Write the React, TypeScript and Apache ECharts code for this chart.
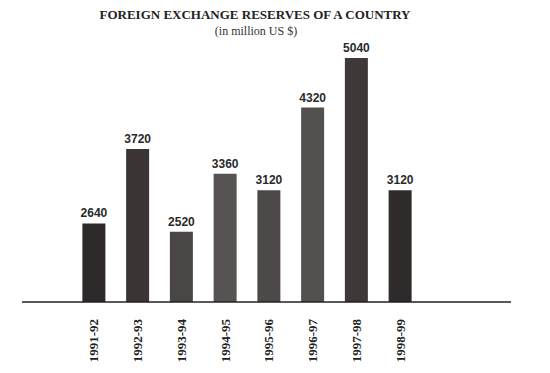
import React, { useEffect, useRef } from "react";
import * as echarts from "echarts";

const categories = ["1991-92", "1992-93", "1993-94", "1994-95", "1995-96", "1996-97", "1997-98", "1998-99"];
const reserves = [2640, 3720, 2520, 3360, 3120, 4320, 5040, 3120];
const barColors = ["#2e2a2a", "#3a3434", "#4a4646", "#575353", "#4d4949", "#555050", "#3f3838", "#2f2b2b"];
const titleText = "FOREIGN EXCHANGE RESERVES OF A COUNTRY";
const subtitleText = "(in million US $)";

export default function App() {
  const ref = useRef<HTMLDivElement>(null);
  useEffect(() => {
    document.body.style.margin = "0";
    const chart = echarts.init(ref.current!, null, { renderer: "svg" });
    chart.setOption({
      animation: false,
      backgroundColor: "#ffffff",
      graphic: [
        {
          type: "text",
          x: 255,
          y: 14,
          style: {
            text: titleText,
            fill: "#222",
            font: "bold 13px 'Liberation Serif', serif",
            textAlign: "center",
            textVerticalAlign: "middle",
          },
        },
        {
          type: "text",
          x: 256,
          y: 31,
          style: {
            text: subtitleText,
            fill: "#333",
            font: "12px 'Liberation Serif', serif",
            textAlign: "center",
            textVerticalAlign: "middle",
          },
        },
        {
          type: "line",
          shape: { x1: 22, y1: 302, x2: 511, y2: 302 },
          style: { stroke: "#222", lineWidth: 1.5 },
          z: 10,
        },
      ],
      grid: { left: 72, width: 350, top: 40, bottom: 71 },
      xAxis: {
        type: "category",
        data: categories,
        axisLine: { show: false },
        axisTick: { show: false },
        axisLabel: {
          rotate: 90,
          margin: 17,
          color: "#222",
          fontFamily: "'Liberation Serif', serif",
          fontWeight: "bold",
          fontSize: 13,
        },
      },
      yAxis: {
        type: "value",
        min: 1500,
        max: 5300,
        show: false,
        splitLine: { show: false },
      },
      series: [
        {
          type: "bar",
          barWidth: 23,
          data: reserves.map((v, i) => ({ value: v, itemStyle: { color: barColors[i] } })),
          label: {
            show: true,
            position: "top",
            distance: 4,
            color: "#2a2a2a",
            fontFamily: "'Liberation Sans', sans-serif",
            fontWeight: "bold",
            fontSize: 12,
          },
        },
      ],
    });
    return () => chart.dispose();
  }, []);
  return <div ref={ref} style={{ position: "fixed", left: 0, top: 0, width: 550, height: 373 }} />;
}
